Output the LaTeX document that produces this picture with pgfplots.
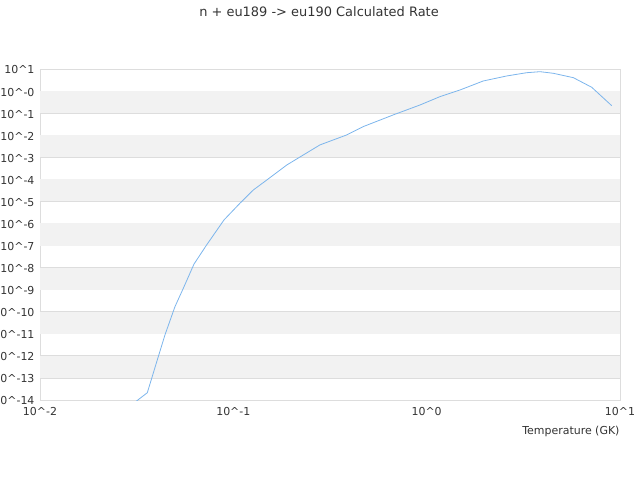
\documentclass[border=0pt]{standalone}
\usepackage{pgfplots}
\pgfplotsset{compat=1.18}
\usepackage{fontspec}
\setmainfont{DejaVu Sans}
\definecolor{band}{HTML}{F2F2F2}
\definecolor{gridc}{HTML}{DDDDDD}
\definecolor{txt}{HTML}{333333}
\definecolor{line}{HTML}{7CB5EC}
\begin{document}
\begin{tikzpicture}[x=1bp,y=1bp]
\useasboundingbox (-40,-80) rectangle (600,400);
\begin{axis}[
  at={(0,0)}, anchor=south west,
  scale only axis, width=580bp, height=331bp,
  xmode=log, ymode=log,
  xmin=0.01, xmax=10, ymin=1e-14, ymax=10,
  axis line style={gridc, line width=0.8bp},
  major tick length=0pt, minor tick length=0pt,
  minor xtick={}, minor ytick={},
  xtick={0.01,0.1,1,10},
  xticklabels={10\^{}-2,10\^{}-1,10\^{}0,10\^{}1},
  ytick={1e-14,1e-13,1e-12,1e-11,1e-10,1e-9,1e-8,1e-7,1e-6,1e-5,1e-4,1e-3,1e-2,1e-1,1,10},
  yticklabels={10\^{}-14,10\^{}-13,10\^{}-12,10\^{}-11,10\^{}-10,10\^{}-9,10\^{}-8,10\^{}-7,10\^{}-6,10\^{}-5,10\^{}-4,10\^{}-3,10\^{}-2,10\^{}-1,10\^{}-0,10\^{}1},
  ymajorgrids, major grid style={gridc, line width=0.8bp},
  tick label style={font=\fontsize{11}{13}\selectfont, text=txt},
  xticklabel style={yshift=-4bp},
  yticklabel style={xshift=-2bp, yshift=-1bp},
  clip=true,
]
\fill[band] (axis cs:0.01,1e-1) rectangle (axis cs:10,1);
\fill[band] (axis cs:0.01,1e-3) rectangle (axis cs:10,1e-2);
\fill[band] (axis cs:0.01,1e-5) rectangle (axis cs:10,1e-4);
\fill[band] (axis cs:0.01,1e-7) rectangle (axis cs:10,1e-6);
\fill[band] (axis cs:0.01,1e-9) rectangle (axis cs:10,1e-8);
\fill[band] (axis cs:0.01,1e-11) rectangle (axis cs:10,1e-10);
\fill[band] (axis cs:0.01,1e-13) rectangle (axis cs:10,1e-12);
\addplot[line, line width=0.8bp, no marks] table[x=T, y expr=10^\thisrow{L}] {
T L
0.0275 -14.45
0.0359 -13.67
0.0409 -12.04
0.0443 -11.05
0.0499 -9.77
0.0551 -8.94
0.0626 -7.84
0.0728 -6.97
0.0895 -5.84
0.108 -5.09
0.127 -4.48
0.149 -4.03
0.189 -3.35
0.2805 -2.44
0.3855 -1.99
0.47 -1.61
0.672 -1.08
0.924 -0.63
1.17 -0.255
1.487 0.048
1.96 0.456
2.59 0.683
3.29 0.832
3.86 0.878
4.52 0.805
5.74 0.606
7.14 0.171
9.06 -0.663
};
\end{axis}
\node[font=\fontsize{13}{15}\selectfont, text=txt] at (279,388) {n + eu189 -> eu190 Calculated Rate};
\node[font=\fontsize{11}{13}\selectfont, text=txt, anchor=east] at (583,-31) {Temperature (GK)};
\end{tikzpicture}
\end{document}
